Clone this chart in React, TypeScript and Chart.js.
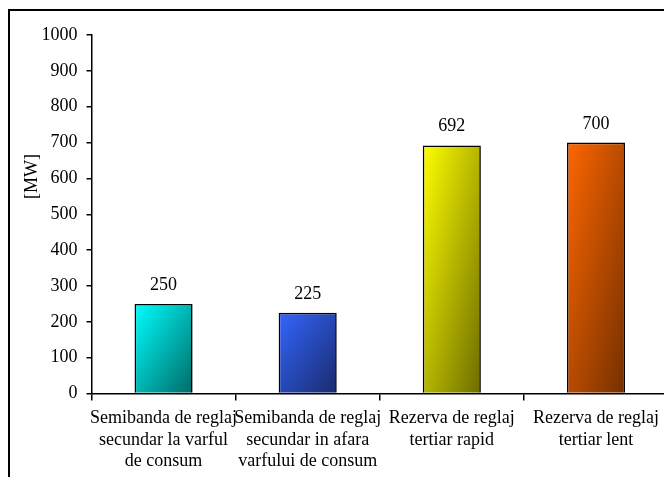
import React, { useEffect, useRef } from "react";
import { Chart, registerables } from "chart.js";

Chart.register(...registerables);

// ---- data ----
const categories: string[][] = [
  ["Semibanda de reglaj", "secundar la varful", "de consum"],
  ["Semibanda de reglaj", "secundar in afara", "varfului de consum"],
  ["Rezerva de reglaj", "tertiar rapid"],
  ["Rezerva de reglaj", "tertiar lent"],
];
const values: number[] = [250, 225, 692, 700];
const barLightColors: string[] = ["#00FFFF", "#3366FF", "#FFFF00", "#FF6600"];
const barDarkColors: string[] = ["#006A66", "#1A2A6C", "#6C6C00", "#733000"];
const yMin = 0;
const yMax = 1000;
const yStep = 100;
const yAxisTitle = "[MW]";

const FONT = "'Liberation Serif', 'Times New Roman', serif";
const BAR_FRACTION = 0.403;

const yTitlePlugin = {
  id: "yTitlePlugin",
  afterDraw(chart: any) {
    const { ctx, chartArea } = chart;
    ctx.save();
    ctx.font = `18px ${FONT}`;
    ctx.fillStyle = "#000";
    ctx.textAlign = "center";
    ctx.textBaseline = "middle";
    ctx.translate(chartArea.left - 59, chartArea.top + (chartArea.bottom - chartArea.top) * 0.395);
    ctx.rotate(-Math.PI / 2);
    ctx.fillText(yAxisTitle, 0, 0);
    ctx.restore();
  },
};

const valueLabelPlugin = {
  id: "valueLabelPlugin",
  afterDatasetsDraw(chart: any) {
    const { ctx } = chart;
    const meta = chart.getDatasetMeta(0);
    ctx.save();
    ctx.font = `18px ${FONT}`;
    ctx.fillStyle = "#000";
    ctx.textAlign = "center";
    ctx.textBaseline = "alphabetic";
    meta.data.forEach((bar: any, i: number) => {
      ctx.fillText(String(values[i]), bar.x, bar.y - 14);
    });
    ctx.restore();
  },
};

export default function App() {
  const canvasRef = useRef<HTMLCanvasElement | null>(null);

  useEffect(() => {
    if (!canvasRef.current) return;
    Chart.defaults.font.family = FONT;
    Chart.defaults.font.size = 18;
    Chart.defaults.color = "#000";

    const chart = new Chart(canvasRef.current, {
      type: "bar",
      data: {
        labels: categories,
        datasets: [
          {
            data: values,
            borderColor: "#000",
            borderWidth: 1.6,
            categoryPercentage: 1,
            barPercentage: BAR_FRACTION,
            backgroundColor: (c: any) => {
              const chart = c.chart;
              const i = c.dataIndex;
              if (i === undefined || i === null) return barLightColors[0];
              const { chartArea } = chart;
              if (!chartArea) return barLightColors[i];
              const xs = chart.scales.x;
              const ys = chart.scales.y;
              const cx = xs.getPixelForValue(i);
              const w = (xs.width / categories.length) * BAR_FRACTION;
              const top = ys.getPixelForValue(values[i]);
              const bottom = ys.getPixelForValue(0);
              const h = Math.max(1, bottom - top);
              const left = cx - w / 2;
              const k = (2 * w * h) / (h * h + w * w);
              const g = chart.ctx.createLinearGradient(left, top, left + k * h, top + k * w);
              g.addColorStop(0, barLightColors[i]);
              g.addColorStop(1, barDarkColors[i]);
              return g;
            },
          },
        ],
      },
      options: {
        responsive: false,
        animation: false,
        devicePixelRatio: 1,
        layout: { padding: { left: 0, top: 24, right: 32, bottom: 0 } },
        plugins: {
          legend: { display: false },
          tooltip: { enabled: false },
          title: { display: false },
        },
        scales: {
          x: {
            grid: {
              display: true,
              drawOnChartArea: false,
              drawTicks: true,
              tickLength: 7,
              color: "#000",
              lineWidth: 1.5,
              offset: true,
            },
            border: { display: true, color: "#000", width: 1.5 },
            ticks: {
              autoSkip: false,
              maxRotation: 0,
              minRotation: 0,
              padding: 7,
              color: "#000",
              font: { family: FONT, size: 18, lineHeight: 1.2 },
            },
            afterFit: (s: any) => {
              s.height = 97.5;
            },
          },
          y: {
            min: yMin,
            max: yMax,
            grid: {
              display: true,
              drawOnChartArea: false,
              drawTicks: true,
              tickLength: 5,
              color: "#000",
              lineWidth: 1.5,
            },
            border: { display: true, color: "#000", width: 1.5 },
            ticks: {
              stepSize: yStep,
              padding: 9,
              color: "#000",
              font: { family: FONT, size: 18 },
              callback: (v: any) => String(v),
            },
            afterFit: (s: any) => {
              s.width = 81.5;
            },
          },
        },
      },
      plugins: [yTitlePlugin, valueLabelPlugin],
    });
    return () => chart.destroy();
  }, []);

  return (
    <div
      style={{
        position: "fixed",
        left: 8,
        top: 8,
        right: 0,
        bottom: 0,
        overflow: "hidden",
        background: "#fff",
      }}
    >
      <div
        style={{
          marginTop: 1,
          border: "2px solid #000",
          width: 700,
          height: 500,
          boxSizing: "border-box",
        }}
      >
        <canvas ref={canvasRef} width={690} height={480} style={{ display: "block" }} />
      </div>
    </div>
  );
}
